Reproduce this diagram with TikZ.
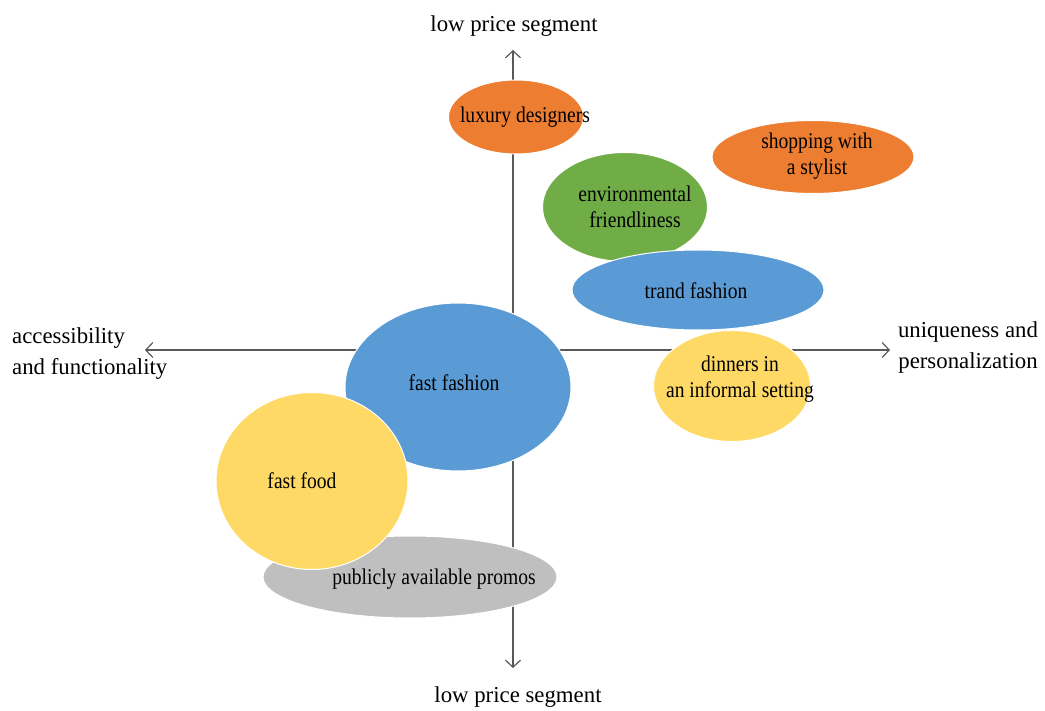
\documentclass[tikz,border=0pt]{standalone}
\usepackage{fontspec}
\setmainfont{Liberation Serif}
\newfontfamily\condfont[FakeStretch=0.87]{Liberation Serif}
\usetikzlibrary{shapes.geometric,arrows.meta}
\definecolor{cOrange}{HTML}{ED7D31}
\definecolor{cGreen}{HTML}{70AD47}
\definecolor{cBlue}{HTML}{5B9BD5}
\definecolor{cYellow}{HTML}{FFD966}
\definecolor{cGray}{HTML}{BFBFBF}
\definecolor{cAxis}{HTML}{595959}
\begin{document}
\begin{tikzpicture}[x=1pt,y=-1pt,
  blob/.style={ellipse, draw=white, line width=1pt, inner sep=0pt},
  blabel/.style={font=\condfont\fontsize{22.5}{26.5}\selectfont, align=center, text=black, inner sep=0pt},
  axislab/.style={font=\fontsize{22.8}{31}\selectfont, inner sep=0pt},
  axisline/.style={draw=cAxis, line width=1.2pt, -{Straight Barb[length=7pt,width=15pt,line width=1.2pt]}}]
\useasboundingbox (0,0) rectangle (1045,711);

% axes
\coordinate (O) at (513,350);
\coordinate (top) at (513,50);
\coordinate (bot) at (513,668);
\coordinate (lft) at (145,350);
\coordinate (rgt) at (890,350);
\draw[axisline] (O) -- (top);
\draw[axisline] (O) -- (bot);
\draw[axisline] (O) -- (lft);
\draw[axisline] (O) -- (rgt);

\node[axislab] (topL) at (514,26) {low price segment};
\node[axislab] (botL) at (518,697) {low price segment};
\node[axislab, anchor=west, align=left] (lftL) at (12,354) {accessibility\\and functionality};
\node[axislab, align=center] (rgtL) at (968,348) {uniqueness and\\personalization};

% ellipses
\node[blob, fill=cGray, minimum width=294pt, minimum height=82pt] (promoE) at (410,577) {};
\node[blob, fill=cBlue, minimum width=226pt, minimum height=168pt] (ffE) at (458,387) {};
\node[blob, fill=cYellow, minimum width=192pt, minimum height=177pt] (foodE) at (312,481) {};
\node[blob, fill=cOrange, minimum width=135pt, minimum height=74pt] (luxE) at (516,117) {};
\node[blob, fill=cOrange, minimum width=202pt, minimum height=73pt] (shopE) at (813,157) {};
\node[blob, fill=cGreen, minimum width=165pt, minimum height=109pt] (envE) at (625,207) {};
\node[blob, fill=cBlue, minimum width=252pt, minimum height=80pt] (trandE) at (698,290) {};
\node[blob, fill=cYellow, minimum width=157pt, minimum height=111pt] (dinE) at (732,386) {};

% labels
\node[blabel] (promoT) at (434,579) {publicly available promos};
\node[blabel] (ffT) at (454,383) {fast fashion};
\node[blabel] (foodT) at (302,481) {fast food};
\node[blabel] (luxT) at (525,117) {luxury designers};
\node[blabel] (shopT) at (817,156) {shopping with\\a stylist};
\node[blabel] (envT) at (635,207) {environmental\\friendliness};
\node[blabel] (trandT) at (696,291) {trand fashion};
\node[blabel] (dinT) at (740,379) {dinners in\\an informal setting};
\end{tikzpicture}
\end{document}
